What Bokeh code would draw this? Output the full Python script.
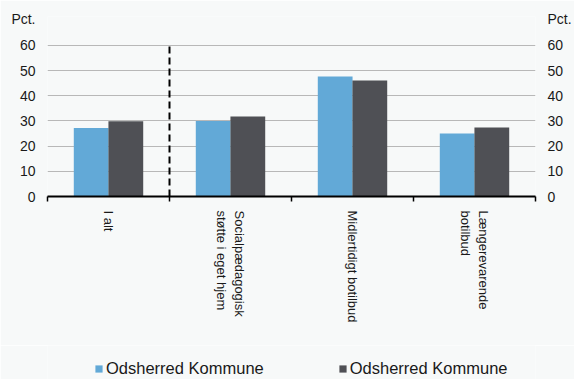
import math
from bokeh.plotting import figure
from bokeh.layouts import column
from bokeh.models import (Range1d, LinearAxis, FixedTicker, Legend, LegendItem)
from bokeh.embed import file_html
from bokeh.resources import INLINE

# ---- data ----
categories = ["I alt", "Socialpædagogisk\nstøtte i eget hjem", "Midlertidigt botilbud", "Længerevarende\nbotilbud"]
series_a_name = "Odsherred Kommune"
series_b_name = "Odsherred Kommune"
series_a = [27.2, 30.0, 47.7, 25.0]
series_b = [29.9, 31.8, 46.1, 27.4]
y_ticks = [0, 10, 20, 30, 40, 50, 60]
separator_after = [1]  # dashed line after first category
unit_label = "Pct."

BLUE = "#62a9d7"
DARK = "#4f5055"
BG = "#f7f9f9"
FONT = "Liberation Sans"
TXT = "#1a1a1a"

n = len(categories)
centers = [i + 0.5 for i in range(n)]
bw = 0.285
xa = [c - 0.142 for c in centers]
xb = [c + 0.142 for c in centers]

y_top = 71.5          # headroom above the 60 gridline for the unit label
unit_pos = 70.7

p = figure(width=574, height=345, output_backend="svg", toolbar_location=None,
           x_range=Range1d(0, n), y_range=Range1d(0, y_top),
           min_border_left=47, min_border_right=34, min_border_top=16, min_border_bottom=149,
           background_fill_color=BG, border_fill_color=BG, outline_line_color=None)

ra = p.vbar(x=xa, top=series_a, width=bw, fill_color=BLUE, line_color=None)
rb = p.vbar(x=xb, top=series_b, width=bw, fill_color=DARK, line_color=None)

p.segment(x0=separator_after, y0=[0] * len(separator_after),
          x1=separator_after, y1=[max(y_ticks)] * len(separator_after),
          line_color="black", line_width=2, line_dash="7 4")

# x axis
xax = p.xaxis[0]
xax.ticker = FixedTicker(ticks=centers, minor_ticks=list(range(n + 1)))
xax.major_label_overrides = {c: lab for c, lab in zip(centers, categories)}
xax.major_label_orientation = -math.pi / 2
xax.major_tick_line_color = None
xax.major_tick_out = 0
xax.major_tick_in = 0
xax.minor_tick_line_color = "black"
xax.minor_tick_line_width = 1.5
xax.minor_tick_out = 5
xax.minor_tick_in = 0
xax.axis_line_color = "black"
xax.axis_line_width = 2
xax.major_label_standoff = 9
xax.major_label_text_font = FONT
xax.major_label_text_font_size = "13px"
xax.major_label_text_color = TXT

# y axes
def style_y(ax, standoff):
    ax.ticker = FixedTicker(ticks=y_ticks + [unit_pos])
    ax.major_label_overrides = {unit_pos: unit_label}
    ax.axis_line_color = None
    ax.major_tick_line_color = None
    ax.minor_tick_line_color = None
    ax.major_tick_out = 0
    ax.major_tick_in = 0
    ax.major_label_standoff = standoff
    ax.major_label_text_font = FONT
    ax.major_label_text_font_size = "14px"
    ax.major_label_text_color = TXT

style_y(p.yaxis[0], 12)
ry = LinearAxis()
style_y(ry, 12)
p.add_layout(ry, "right")

p.xgrid.grid_line_color = None
p.ygrid.ticker = FixedTicker(ticks=y_ticks)
p.ygrid.grid_line_color = "#b8b8b8"
p.ygrid.grid_line_width = 1

# legend strip below the chart (frame aligned with the chart frame by the column layout)
p2 = figure(width=574, height=34, output_backend="svg", toolbar_location=None,
            x_axis_type=None, y_axis_type=None, x_range=Range1d(0, 1), y_range=Range1d(0, 1),
            min_border=0, background_fill_color=BG, border_fill_color=BG, outline_line_color=None)
la = p2.vbar(x=[0], top=[0], width=0, fill_color=BLUE, line_color=None)
lb = p2.vbar(x=[0], top=[0], width=0, fill_color=DARK, line_color=None)
legend = Legend(items=[LegendItem(label=series_a_name, renderers=[la]),
                       LegendItem(label=series_b_name, renderers=[lb])],
                orientation="horizontal", location=(47, 1),
                glyph_width=9, glyph_height=9, label_standoff=3, spacing=74,
                padding=0, margin=0, border_line_color=None, background_fill_alpha=0,
                label_text_font=FONT, label_text_font_size="16.5px", label_text_color=TXT)
p2.add_layout(legend, "center")

layout = column(p, p2, spacing=0)
open("out.html", "w").write(file_html(layout, INLINE))
